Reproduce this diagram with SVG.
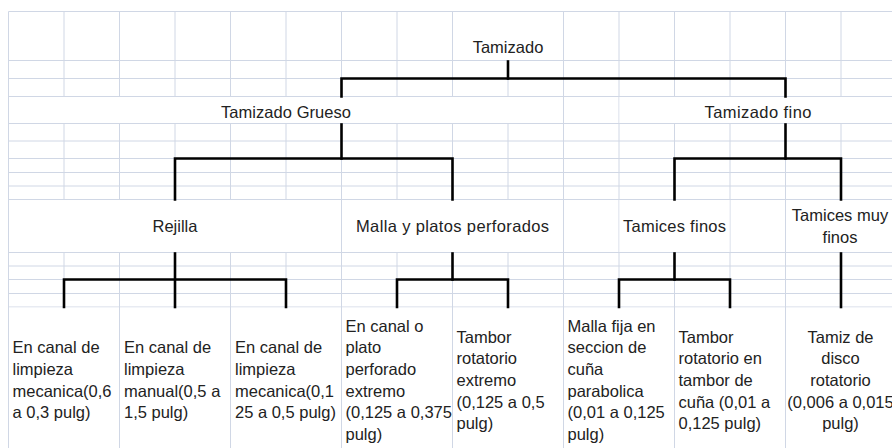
<svg xmlns="http://www.w3.org/2000/svg" width="892" height="448" viewBox="0 0 892 448">
<style>
.grid line{stroke:#d0d7e5;stroke-width:1}
.cell{fill:#ffffff}
.t{font-family:"Liberation Sans",Arial,sans-serif;font-size:16.5px;fill:#222222}
.c{text-anchor:middle}
.conn path{fill:none;stroke:#000000;stroke-width:2.6;stroke-linecap:square;stroke-linejoin:miter}
</style>
<rect x="0" y="0" width="892" height="448" fill="#ffffff"/>
<g class="grid">
<line x1="8.5" y1="11.5" x2="892" y2="11.5"/>
<line x1="8.5" y1="60.5" x2="892" y2="60.5"/>
<line x1="8.5" y1="78.5" x2="892" y2="78.5"/>
<line x1="8.5" y1="96.5" x2="892" y2="96.5"/>
<line x1="8.5" y1="123.5" x2="892" y2="123.5"/>
<line x1="8.5" y1="141" x2="892" y2="141"/>
<line x1="8.5" y1="158.5" x2="892" y2="158.5"/>
<line x1="8.5" y1="172.5" x2="892" y2="172.5"/>
<line x1="8.5" y1="186" x2="892" y2="186"/>
<line x1="8.5" y1="199.5" x2="892" y2="199.5"/>
<line x1="8.5" y1="252.5" x2="892" y2="252.5"/>
<line x1="8.5" y1="266" x2="892" y2="266"/>
<line x1="8.5" y1="279.5" x2="892" y2="279.5"/>
<line x1="8.5" y1="293.5" x2="892" y2="293.5"/>
<line x1="8.5" y1="307" x2="892" y2="307"/>
<line x1="8.5" y1="11.5" x2="8.5" y2="448"/>
<line x1="64" y1="11.5" x2="64" y2="448"/>
<line x1="119.5" y1="11.5" x2="119.5" y2="448"/>
<line x1="175" y1="11.5" x2="175" y2="448"/>
<line x1="230.5" y1="11.5" x2="230.5" y2="448"/>
<line x1="286" y1="11.5" x2="286" y2="448"/>
<line x1="341.5" y1="11.5" x2="341.5" y2="448"/>
<line x1="397" y1="11.5" x2="397" y2="448"/>
<line x1="452.5" y1="11.5" x2="452.5" y2="448"/>
<line x1="508" y1="11.5" x2="508" y2="448"/>
<line x1="563.5" y1="11.5" x2="563.5" y2="448"/>
<line x1="619" y1="11.5" x2="619" y2="448"/>
<line x1="674.5" y1="11.5" x2="674.5" y2="448"/>
<line x1="730" y1="11.5" x2="730" y2="448"/>
<line x1="785.5" y1="11.5" x2="785.5" y2="448"/>
<line x1="841" y1="11.5" x2="841" y2="448"/>
</g>
<g id="tamizado"><rect class="cell" x="453" y="12" width="110" height="48"/><text class="t c" x="508" y="52.5">Tamizado</text></g>
<g id="tamizado-grueso"><rect class="cell" x="9" y="97" width="554" height="26"/><text class="t c" x="286" y="118.3" textLength="130" lengthAdjust="spacing">Tamizado Grueso</text></g>
<g id="tamizado-fino"><rect class="cell" x="619.5" y="97" width="273" height="26"/><text class="t c" x="758" y="118.3" textLength="107" lengthAdjust="spacing">Tamizado fino</text></g>
<g id="rejilla"><rect class="cell" x="9" y="200" width="332" height="52"/><text class="t c" x="175" y="231.6">Rejilla</text></g>
<g id="malla"><rect class="cell" x="342" y="200" width="221" height="52"/><text class="t c" x="452.5" y="231.6" textLength="193" lengthAdjust="spacing">Malla y platos perforados</text></g>
<g id="tamices-finos"><rect class="cell" x="619.5" y="200" width="110" height="52"/><text class="t c" x="674.5" y="231.6" textLength="103" lengthAdjust="spacing">Tamices finos</text></g>
<g id="tamices-muy-finos"><rect class="cell" x="786" y="200" width="107" height="52"/><text class="t c"><tspan x="840" y="220.8">Tamices muy</tspan><tspan x="840" y="242.5">finos</tspan></text></g>
<g id="leaf1"><rect class="cell" x="9" y="307.5" width="110" height="141"/><text class="t"><tspan x="12.5" y="353.3">En canal de</tspan><tspan x="12.5" y="375">limpieza</tspan><tspan x="12.5" y="396.7">mecanica(0,6</tspan><tspan x="12.5" y="418.3">a 0,3 pulg)</tspan></text></g>
<g id="leaf2"><rect class="cell" x="120" y="307.5" width="110" height="141"/><text class="t"><tspan x="124" y="353.3">En canal de</tspan><tspan x="124" y="375">limpieza</tspan><tspan x="124" y="396.7">manual(0,5 a</tspan><tspan x="124" y="418.3">1,5 pulg)</tspan></text></g>
<g id="leaf3"><rect class="cell" x="231" y="307.5" width="110" height="141"/><text class="t"><tspan x="235" y="353.3">En canal de</tspan><tspan x="235" y="375">limpieza</tspan><tspan x="235" y="396.7">mecanica(0,1</tspan><tspan x="235" y="418.3">25 a 0,5 pulg)</tspan></text></g>
<g id="leaf4"><rect class="cell" x="342" y="307.5" width="110" height="141"/><text class="t"><tspan x="345.5" y="331.7">En canal o</tspan><tspan x="345.5" y="353.3">plato</tspan><tspan x="345.5" y="375">perforado</tspan><tspan x="345.5" y="396.7">extremo</tspan><tspan x="345.5" y="418.3">(0,125 a 0,375</tspan><tspan x="345.5" y="440">pulg)</tspan></text></g>
<g id="leaf5"><rect class="cell" x="453" y="307.5" width="110" height="141"/><text class="t"><tspan x="456.5" y="342.5">Tambor</tspan><tspan x="456.5" y="364.2">rotatorio</tspan><tspan x="456.5" y="385.8">extremo</tspan><tspan x="456.5" y="407.5">(0,125 a 0,5</tspan><tspan x="456.5" y="429.2">pulg)</tspan></text></g>
<g id="leaf6"><rect class="cell" x="564" y="307.5" width="110" height="141"/><text class="t"><tspan x="567.5" y="331.7">Malla fija en</tspan><tspan x="567.5" y="353.3">seccion de</tspan><tspan x="567.5" y="375">cuña</tspan><tspan x="567.5" y="396.7">parabolica</tspan><tspan x="567.5" y="418.3">(0,01 a 0,125</tspan><tspan x="567.5" y="440">pulg)</tspan></text></g>
<g id="leaf7"><rect class="cell" x="675" y="307.5" width="110" height="141"/><text class="t"><tspan x="678.5" y="342.5">Tambor</tspan><tspan x="678.5" y="364.2">rotatorio en</tspan><tspan x="678.5" y="385.8">tambor de</tspan><tspan x="678.5" y="407.5">cuña (0,01 a</tspan><tspan x="678.5" y="429.2">0,125 pulg)</tspan></text></g>
<g id="leaf8"><rect class="cell" x="786" y="307.5" width="107" height="141"/><text class="t c"><tspan x="840.5" y="342.5">Tamiz de</tspan><tspan x="840.5" y="364.2">disco</tspan><tspan x="840.5" y="385.8">rotatorio</tspan><tspan x="840.5" y="407.5">(0,006 a 0,015</tspan><tspan x="840.5" y="429.2">pulg)</tspan></text></g>
<g class="conn" id="connectors">
<path d="M508,61.5 V78.5"/>
<path d="M341.5,96.5 V78.5 H785.5 V96.5"/>
<path d="M341.5,124.5 V158.5"/>
<path d="M175,199.5 V158.5 H452.5 V199.5"/>
<path d="M785.5,124.5 V158.5"/>
<path d="M674.5,199.5 V158.5 H841 V199.5"/>
<path d="M175,253.5 V307"/>
<path d="M64,307 V279.5 H286 V307"/>
<path d="M452.5,253.5 V279.5"/>
<path d="M397,307 V279.5 H508 V307"/>
<path d="M674.5,253.5 V279.5"/>
<path d="M619,307 V279.5 H730 V307"/>
<path d="M841,253.5 V307"/>
</g>
</svg>
